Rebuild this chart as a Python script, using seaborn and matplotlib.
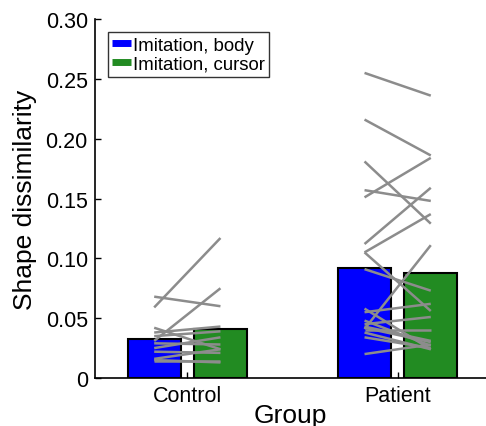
import numpy as np
import pandas as pd
import matplotlib
matplotlib.use("Agg")
import matplotlib.pyplot as plt
from matplotlib.lines import Line2D
import seaborn as sns

groups = ["Control", "Patient"]
conditions = ["Imitation, body", "Imitation, cursor"]
colors = ["#0000ff", "#228b22"]

# paired per-subject values (body -> cursor)
control_body = [0.059, 0.068, 0.031, 0.042, 0.038, 0.035, 0.029, 0.025, 0.022, 0.016, 0.014, 0.015]
control_cursor = [0.117, 0.060, 0.075, 0.024, 0.043, 0.039, 0.028, 0.034, 0.021, 0.024, 0.014, 0.013]
patient_body = [0.255, 0.216, 0.181, 0.157, 0.151, 0.112, 0.105, 0.105, 0.041, 0.091,
                0.058, 0.055, 0.048, 0.045, 0.043, 0.034, 0.020, 0.040, 0.042, 0.038]
patient_cursor = [0.236, 0.186, 0.129, 0.148, 0.184, 0.159, 0.137, 0.056, 0.111, 0.073,
                  0.024, 0.062, 0.027, 0.051, 0.031, 0.025, 0.028, 0.040, 0.030, 0.024]

rows = []
for g, b, c in [("Control", control_body, control_cursor), ("Patient", patient_body, patient_cursor)]:
    for v in b:
        rows.append((g, conditions[0], v))
    for v in c:
        rows.append((g, conditions[1], v))
df = pd.DataFrame(rows, columns=["group", "condition", "value"])

sns.set_style("ticks")
plt.rcParams["font.family"] = ["Liberation Sans", "DejaVu Sans"]
plt.rcParams["text.color"] = "black"
plt.rcParams["axes.labelcolor"] = "black"

fig = plt.figure(figsize=(4.86, 4.27), dpi=100)
ax = fig.add_axes([0.195, 0.1124, 0.805, 0.8406])

sns.barplot(data=df, x="group", y="value", hue="condition", order=groups,
            hue_order=conditions, palette=colors, estimator="mean", errorbar=None,
            width=0.63, gap=0.2, edgecolor="black", linewidth=1.5, saturation=1,
            legend=False, ax=ax)

# subject lines from body bar centre to cursor bar centre
off = 0.63 / 4
for i, (b, c) in enumerate([(control_body, control_cursor), (patient_body, patient_cursor)]):
    for vb, vc in zip(b, c):
        ax.plot([i - off, i + off], [vb, vc], color="#8c8c8c", lw=1.8, zorder=5,
                solid_capstyle="butt")

ax.set_xlim(-0.44, 1.42)
ax.set_ylim(0, 0.30)
ax.set_yticks([0, 0.05, 0.10, 0.15, 0.20, 0.25, 0.30])
ax.set_yticklabels(["0", "0.05", "0.10", "0.15", "0.20", "0.25", "0.30"])
ax.tick_params(direction="in", length=4, width=1, labelsize=15.5, pad=5,
               colors="black", labelcolor="black")
ax.set_xlabel("Group", fontsize=19, labelpad=-2)
ax.set_ylabel("Shape dissimilarity", fontsize=19, labelpad=6)
sns.despine(ax=ax)
for s in ["left", "bottom"]:
    ax.spines[s].set_linewidth(1.2)
    ax.spines[s].set_color("black")

handles = [Line2D([], [], color=colors[0], lw=5, solid_capstyle="butt"),
           Line2D([], [], color=colors[1], lw=5, solid_capstyle="butt")]
leg = ax.legend(handles, conditions, loc="upper left", bbox_to_anchor=(0.033, 0.964),
                borderaxespad=0, fontsize=13.4, frameon=True, fancybox=False,
                handlelength=1.0, handletextpad=0.1, borderpad=0.25, labelspacing=0.1)
leg.get_frame().set_edgecolor("black")
leg.get_frame().set_linewidth(1)

fig.savefig("out.png", dpi=100)
